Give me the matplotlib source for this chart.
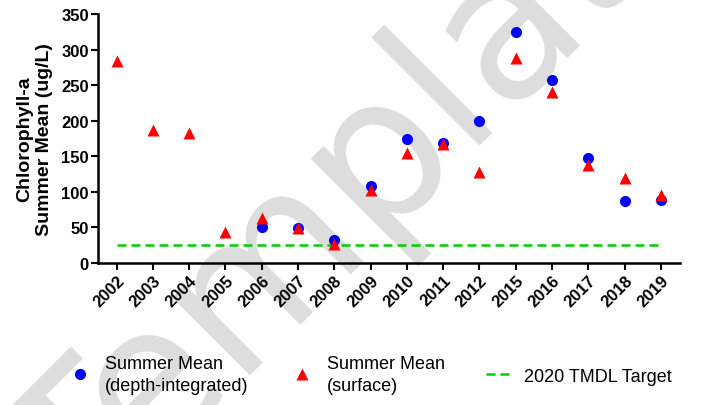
import matplotlib
matplotlib.use("Agg")
import matplotlib.pyplot as plt
import numpy as np

# summer chlorophyll-a means per sampling year (ug/L)
years = ['2002', '2003', '2004', '2005', '2006', '2007', '2008', '2009', '2010',
         '2011', '2012', '2015', '2016', '2017', '2018', '2019']
depth_mean = [np.nan, np.nan, np.nan, np.nan, 51, 49, 32, 108, 175,
              169, 199, 325, 257, 148, 87, 88]
surface_mean = [284, 187, 183, 43, 63, 49, 26, 103, 154,
                167, 128, 288, 240, 137, 119, 96]
tmdl_target = 25

plt.rcParams['font.family'] = ['Liberation Sans', 'DejaVu Sans']

fig = plt.figure(figsize=(7.03, 4.06), dpi=100)
ax = fig.add_axes([0.1401, 0.3505, 0.8272, 0.6118])
ax.set_facecolor('none')

# watermark behind the plot
fig.text(0.125, -0.325, 'Template', fontsize=145, color='#dddddd', family='DejaVu Sans',
         rotation=45, rotation_mode='anchor', ha='left', va='baseline', zorder=-1)

x = np.arange(len(years))
ax.plot(x, depth_mean, 'o', color='#0000ff', ms=8, mec='none',
        label='Summer Mean\n(depth-integrated)', zorder=3)
ax.plot(x, surface_mean, '^', color='#ff0000', ms=8, mec='none',
        label='Summer Mean\n(surface)', zorder=4)
ax.plot([x[0], x[-1]], [tmdl_target, tmdl_target], color='#00cc00', lw=1.8,
        ls=(0, (3.6, 2.0)), label='2020 TMDL Target', zorder=2)

ax.set_xlim(-0.5, 15.53)
ax.set_ylim(0, 350)
ax.set_yticks(np.arange(0, 351, 50))
ax.set_xticks(x)
ax.set_xticklabels(years, rotation=45, ha='right', rotation_mode='anchor')

for lab in ax.get_xticklabels() + ax.get_yticklabels():
    lab.set_fontweight('bold')
    lab.set_fontsize(12)

ax.tick_params(direction='out', length=5, width=1.5, pad=2, color='black')
ax.spines['top'].set_visible(False)
ax.spines['right'].set_visible(False)
for s in ('left', 'bottom'):
    ax.spines[s].set_linewidth(1.8)

ax.set_ylabel('Chlorophyll-a\nSummer Mean (ug/L)', fontsize=14, fontweight='bold',
              labelpad=6)

leg = ax.legend(loc='upper center', bbox_to_anchor=(0.466, -0.305), ncol=3, frameon=False,
                fontsize=13, handlelength=1.4, handletextpad=0.7, columnspacing=2.25,
                numpoints=1)
for t in leg.get_texts():
    t.set_linespacing(1.4)

fig.savefig('out.png', dpi=100)
